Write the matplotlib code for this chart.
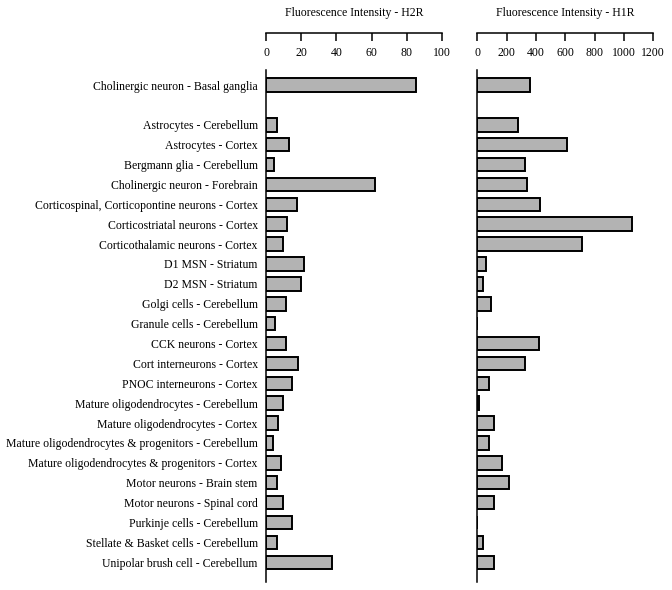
import matplotlib.pyplot as plt

plt.rcParams["font.family"] = ["Liberation Serif", "DejaVu Serif"]

# data
cells = [
    "Cholinergic neuron - Basal ganglia",
    "Astrocytes - Cerebellum",
    "Astrocytes - Cortex",
    "Bergmann glia - Cerebellum",
    "Cholinergic neuron - Forebrain",
    "Corticospinal, Corticopontine neurons - Cortex",
    "Corticostriatal neurons - Cortex",
    "Corticothalamic neurons - Cortex",
    "D1 MSN - Striatum",
    "D2 MSN - Striatum",
    "Golgi cells - Cerebellum",
    "Granule cells - Cerebellum",
    "CCK neurons - Cortex",
    "Cort interneurons - Cortex",
    "PNOC interneurons - Cortex",
    "Mature oligodendrocytes - Cerebellum",
    "Mature oligodendrocytes - Cortex",
    "Mature oligodendrocytes & progenitors - Cerebellum",
    "Mature oligodendrocytes & progenitors - Cortex",
    "Motor neurons - Brain stem",
    "Motor neurons - Spinal cord",
    "Purkinje cells - Cerebellum",
    "Stellate & Basket cells - Cerebellum",
    "Unipolar brush cell - Cerebellum",
]
h2r = [85.4, 6.4, 13.3, 4.5, 62, 17.8, 11.7, 9.5, 21.4, 20, 11.2, 5.1, 11.2,
       18, 14.6, 9.7, 6.8, 4.2, 8.3, 6.4, 9.7, 15, 6, 37.5]
h1r = [361, 280, 609, 327, 341, 430, 1053, 714, 57, 39, 91, 0, 419, 323, 82,
       14, 116, 82, 166, 218, 116, 0, 39, 112]

h2r_ticks = [0, 20, 40, 60, 80, 100]
h1r_ticks = [0, 200, 400, 600, 800, 1000, 1200]

# first row stands alone, then a blank row
ypos = [0] + list(range(2, len(cells) + 1))

W, H = 672, 590
fig = plt.figure(figsize=(W / 100, H / 100), dpi=100)

ax_bottom = 1 - 582 / H
ax_height = (582 - 70) / H
axes_px = 582 - 70
spine_y = 1 + (70 - 33) / axes_px

ax1 = fig.add_axes([266 / W, ax_bottom, 176 / W, ax_height])
ax2 = fig.add_axes([477.3 / W, ax_bottom, 176 / W, ax_height])

for ax, vals, ticks, title in [
    (ax1, h2r, h2r_ticks, "Fluorescence Intensity - H2R"),
    (ax2, h1r, h1r_ticks, "Fluorescence Intensity - H1R"),
]:
    ax.barh(ypos, vals, height=0.68, color="#b3b3b3", edgecolor="black",
            linewidth=1.4, zorder=3)
    ax.set_xlim(ticks[0], ticks[-1])
    ax.set_xticks(ticks)
    ax.set_ylim(24 + 19.7 / 19.86, -15 / 19.86)
    ax.spines["top"].set_visible(False)
    ax.spines["right"].set_visible(False)
    ax.spines["bottom"].set_position(("axes", spine_y))
    ax.spines["bottom"].set_linewidth(1.1)
    ax.spines["left"].set_linewidth(1.1)
    ax.spines["left"].set_zorder(4)
    ax.tick_params(axis="x", direction="out", length=6, width=1.1,
                   labelsize=8.5, pad=4)
    ax.tick_params(axis="y", length=0, pad=6, labelsize=8.5)
    ax.text(0.5, 1 + (70 - 13) / axes_px, title, transform=ax.transAxes,
            ha="center", va="center", fontsize=8.5)

ax1.set_yticks(ypos)
ax1.set_yticklabels(cells)
ax2.set_yticks([])

fig.savefig("out.png", dpi=100)
